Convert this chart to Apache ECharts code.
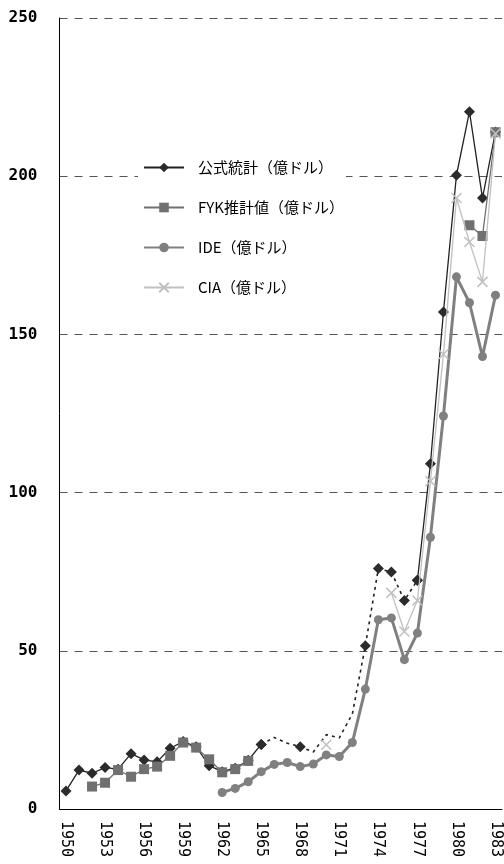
<!DOCTYPE html>
<html><head><meta charset="utf-8">
<script src="https://cdn.jsdelivr.net/npm/echarts@6/dist/echarts.min.js"></script>
<style>html,body{margin:0;padding:0;background:#fff}#c{width:504px;height:864px}</style>
</head><body><div id="c"></div>
<script>
const years = [];
for (let y = 1950; y <= 1983; y++) years.push(String(y));

const seriesNames = ['公式統計（億ドル）', 'FYK推計値（億ドル）', 'IDE（億ドル）', 'CIA（億ドル）'];

const official = [5.7, 12.3, 11.3, 13.1, 12.6, 17.5, 15.5, 14.9, 19.2, 21.3,
  19.7, 13.7, 11.8, 12.9, 15.4, 20.4, 22.6, 20.8, 19.7, 18.0,
  23.5, 22.5, 30.0, 51.6, 76.0, 74.9, 65.9, 72.3, 109.1, 157.1,
  200.3, 220.4, 193.1, 214.0];
const officialDottedFrom = '1965';
const officialDottedTo = '1977';
const officialNoMarker = ['1966', '1967', '1969', '1970', '1971', '1972'];

const fyk = [null, null, 7.1, 8.3, 12.3, 10.2, 12.6, 13.4, 16.8, 21.0,
  19.4, 15.7, 11.6, 12.6, 15.2, null, null, null, null, null,
  null, null, null, null, null, null, null, null, null, null,
  null, 184.5, 181.1, 213.9];

const ide = [null, null, null, null, null, null, null, null, null, null,
  null, null, 5.2, 6.5, 8.6, 11.8, 14.1, 14.7, 13.4, 14.2,
  17.1, 16.6, 21.0, 37.9, 59.8, 60.4, 47.2, 55.6, 85.9, 124.2,
  168.2, 160.0, 143.0, 162.4];

const cia = [null, null, null, null, null, null, null, null, null, null,
  null, null, null, null, null, null, null, null, null, null,
  20.3, null, null, null, null, 68.3, 56.1, 65.9, 103.6, 143.7,
  193.1, 179.2, 166.6, 213.5];

const yTicks = [0, 50, 100, 150, 200, 250];

const iFrom = years.indexOf(officialDottedFrom);
const iTo = years.indexOf(officialDottedTo);
const officialSolid = official.map((v, i) => (i > iFrom && i < iTo) ? null : v);
const officialDotted = official.map((v, i) => {
  if (i < iFrom || i > iTo) return null;
  if (officialNoMarker.indexOf(years[i]) >= 0) return { value: v, symbol: 'none' };
  return v;
});

const chart = echarts.init(document.getElementById('c'), null, { renderer: 'canvas' });
const xPath = 'path://M0,0L10,10M10,0L0,10';
const common = { type: 'line', connectNulls: false, showAllSymbol: true };
chart.setOption({
  animation: false,
  backgroundColor: '#fff',
  textStyle: { fontFamily: '"Noto Sans CJK JP", "Noto Sans", sans-serif' },
  grid: { left: 59.5, right: 2, top: 18, bottom: 55, containLabel: false },
  legend: {
    data: seriesNames,
    orient: 'vertical',
    left: 138, top: 155,
    padding: [5, 2, 5, 5],
    backgroundColor: '#fff',
    itemWidth: 40, itemHeight: 12, itemGap: 25,
    textStyle: { fontSize: 15, color: '#000', padding: [0, 0, 0, 9],
      fontFamily: '"Noto Sans CJK JP", sans-serif' }
  },
  xAxis: {
    type: 'category',
    data: years,
    boundaryGap: true,
    axisLine: { lineStyle: { color: '#000', width: 1 } },
    axisTick: { inside: true, length: 4, interval: 0, lineStyle: { color: '#000' } },
    axisLabel: { interval: 2, rotate: -90, margin: 12, color: '#000', fontSize: 15,
      fontFamily: '"DejaVu Sans Mono", monospace' },
    splitLine: { show: false }
  },
  yAxis: {
    type: 'value',
    min: yTicks[0], max: yTicks[yTicks.length - 1], interval: 50,
    axisLine: { show: true, lineStyle: { color: '#000', width: 1 } },
    axisTick: { show: false },
    axisLabel: { margin: 22, color: '#000', fontSize: 16, fontWeight: 'bold',
      fontFamily: '"DejaVu Sans Mono", monospace' },
    splitLine: { show: true, lineStyle: { color: '#555', type: [8, 7], width: 1 } }
  },
  series: [
    Object.assign({}, common, {
      name: seriesNames[0], data: officialSolid,
      symbol: 'diamond', symbolSize: 11, z: 2,
      lineStyle: { color: '#222', width: 1.3 }, itemStyle: { color: '#2b2b2b' }
    }),
    Object.assign({}, common, {
      name: '公式統計（推計区間）', data: officialDotted,
      symbol: 'diamond', symbolSize: 11, z: 2,
      lineStyle: { color: '#222', width: 1.6, type: [3, 4] }, itemStyle: { color: '#2b2b2b' }
    }),
    Object.assign({}, common, {
      name: seriesNames[1], data: fyk,
      symbol: 'rect', symbolSize: 10, z: 3,
      lineStyle: { color: '#707070', width: 1.3 }, itemStyle: { color: '#707070' }
    }),
    Object.assign({}, common, {
      name: seriesNames[2], data: ide,
      symbol: 'circle', symbolSize: 9, z: 4,
      lineStyle: { color: '#808080', width: 3 }, itemStyle: { color: '#808080' }
    }),
    Object.assign({}, common, {
      name: seriesNames[3], data: cia,
      symbol: xPath, symbolSize: 10, z: 5,
      lineStyle: { color: '#c0c0c0', width: 1.3 },
      itemStyle: { color: '#c0c0c0', borderColor: '#c0c0c0', borderWidth: 1.5 }
    })
  ]
});
</script></body></html>
